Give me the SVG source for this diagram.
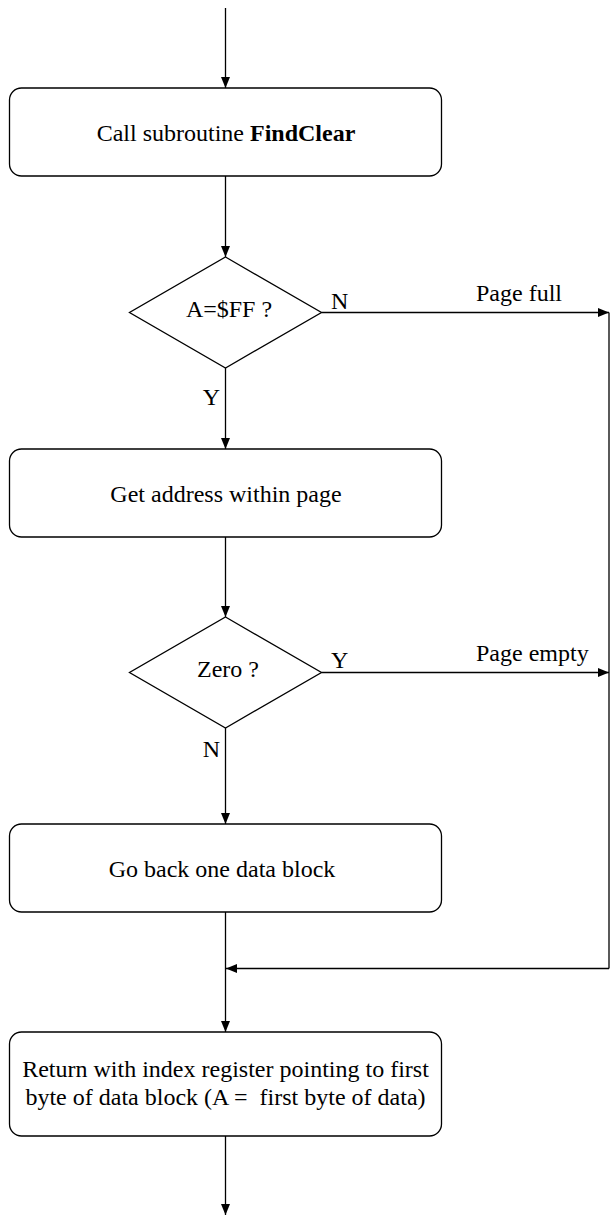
<svg xmlns="http://www.w3.org/2000/svg" width="610" height="1216" viewBox="0 0 610 1216">
<style>
.box{fill:#fff;stroke:#000;stroke-width:1.3}
.ln{fill:none;stroke:#000;stroke-width:1.3}
text{font-family:"Liberation Serif","Times New Roman",serif;font-size:24px;fill:#000}
.c{text-anchor:middle}
</style>
<defs>
<marker id="ah" markerWidth="11" markerHeight="9" refX="11" refY="4.5" orient="auto" markerUnits="userSpaceOnUse">
<path d="M0,0 L11,4.5 L0,9 Z" fill="#000"/>
</marker>
</defs>
<rect width="610" height="1216" fill="#fff"/>
<g id="connectors">
<line class="ln" x1="225.5" y1="8" x2="225.5" y2="88" marker-end="url(#ah)"/>
<line class="ln" x1="225.5" y1="176" x2="225.5" y2="257" marker-end="url(#ah)"/>
<line class="ln" x1="225.5" y1="368" x2="225.5" y2="449" marker-end="url(#ah)"/>
<line class="ln" x1="225.5" y1="537" x2="225.5" y2="617" marker-end="url(#ah)"/>
<line class="ln" x1="225.5" y1="728" x2="225.5" y2="824" marker-end="url(#ah)"/>
<line class="ln" x1="225.5" y1="912" x2="225.5" y2="1032" marker-end="url(#ah)"/>
<line class="ln" x1="225.5" y1="1136" x2="225.5" y2="1215" marker-end="url(#ah)"/>
<line class="ln" x1="321.5" y1="312.5" x2="609" y2="312.5" marker-end="url(#ah)"/>
<line class="ln" x1="321.5" y1="672.5" x2="609" y2="672.5" marker-end="url(#ah)"/>
<line class="ln" x1="609" y1="312.5" x2="609" y2="968.5"/>
<line class="ln" x1="609" y1="968.5" x2="226" y2="968.5" marker-end="url(#ah)"/>
<text x="331" y="309">N</text>
<text x="476" y="301">Page full</text>
<text x="220" y="405" text-anchor="end">Y</text>
<text x="331" y="668">Y</text>
<text x="476" y="661">Page empty</text>
<text x="220" y="757" text-anchor="end">N</text>
</g>
<g id="n1">
<rect class="box" x="9.5" y="88" width="432" height="88" rx="12"/>
<text class="c" x="226" y="140.5">Call subroutine <tspan font-weight="bold">FindClear</tspan></text>
</g>
<g id="d1">
<polygon class="box" points="225.5,257 321.5,312.5 225.5,368 129.5,312.5"/>
<text class="c" x="229" y="317">A=$FF ?</text>
</g>
<g id="n2">
<rect class="box" x="9.5" y="449" width="432" height="88" rx="12"/>
<text class="c" x="226" y="501.5">Get address within page</text>
</g>
<g id="d2">
<polygon class="box" points="225.5,617 321.5,672.5 225.5,728 129.5,672.5"/>
<text class="c" x="228" y="677">Zero ?</text>
</g>
<g id="n3">
<rect class="box" x="9.5" y="824" width="432" height="88" rx="12"/>
<text class="c" x="222" y="876.5">Go back one data block</text>
</g>
<g id="n4">
<rect class="box" x="9.5" y="1032" width="432" height="104" rx="12"/>
<text class="c" x="225.5" y="1076.5">Return with index register pointing to first</text>
<text class="c" x="225.5" y="1105" style="white-space:pre">byte of data block (A =  first byte of data)</text>
</g>
</svg>
